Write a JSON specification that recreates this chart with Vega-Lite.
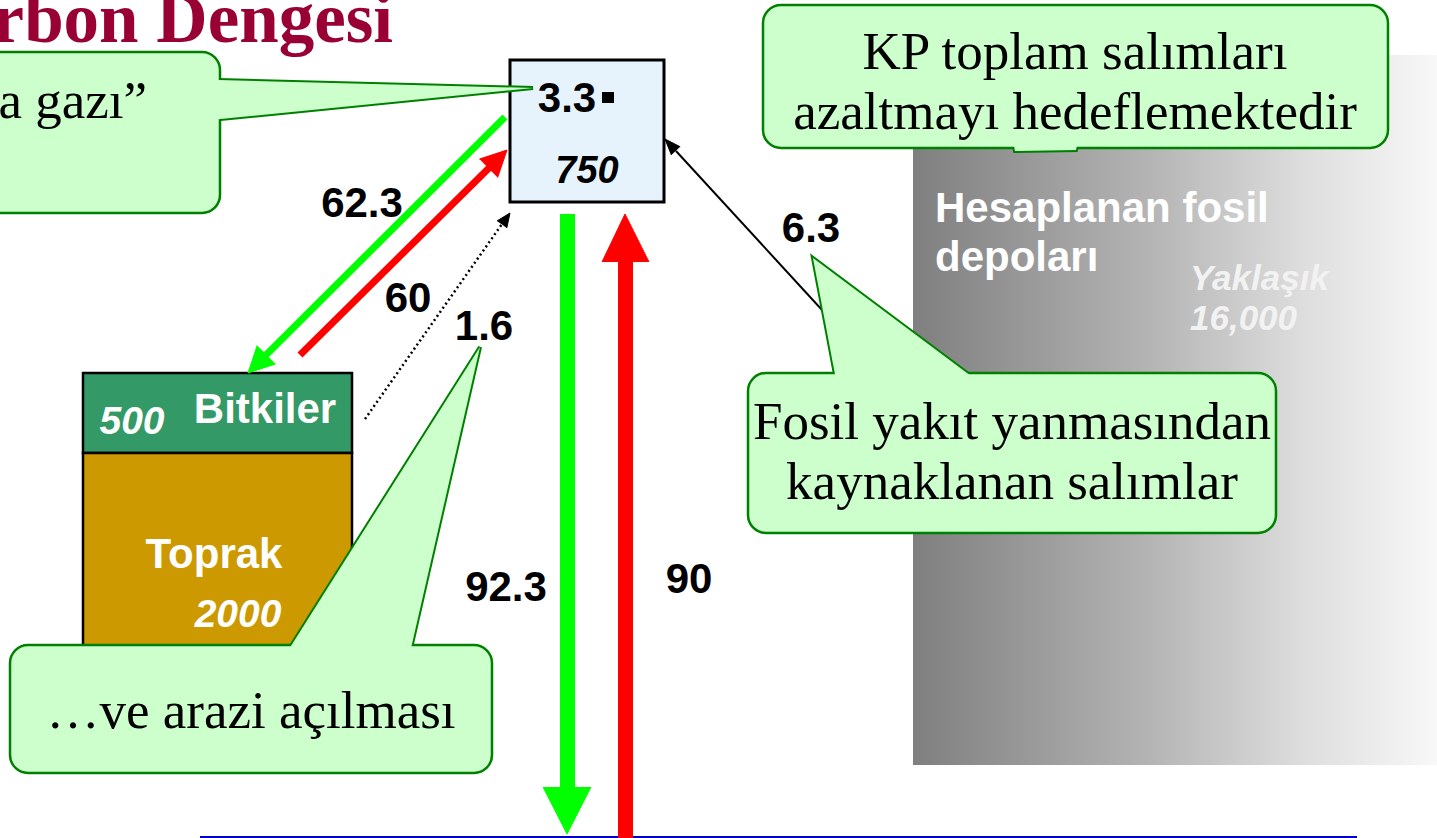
{
  "$schema": "https://vega.github.io/schema/vega-lite/v6.json",
  "width": 1437,
  "height": 838,
  "autosize": {"type": "none"},
  "padding": 0,
  "background": "white",
  "config": {"view": {"stroke": null}},
  "encoding": {
    "x": {"field": "x", "type": "quantitative", "scale": {"domain": [0, 1437], "nice": false, "zero": false}, "axis": null},
    "y": {"field": "y", "type": "quantitative", "scale": {"domain": [0, 838], "nice": false, "zero": false, "reverse": true}, "axis": null}
  },
  "layer": [
    {
      "data": {"values": [{"x": 913, "x2": 1437, "y": 55, "y2": 765}]},
      "mark": {"type": "rect", "fill": {"gradient": "linear", "x1": 0, "y1": 0, "x2": 1, "y2": 0, "stops": [{"offset": 0, "color": "#7f7f7f"}, {"offset": 0.45, "color": "#b4b4b4"}, {"offset": 0.75, "color": "#dedede"}, {"offset": 1, "color": "#f8f8f8"}]}},
      "encoding": {"x2": {"field": "x2"}, "y2": {"field": "y2"}}
    },
    {
      "data": {"values": [{"x": 200, "x2": 1357, "y": 837, "y2": 837}]},
      "mark": {"type": "rule", "stroke": "#0000cc", "strokeWidth": 2},
      "encoding": {"x2": {"field": "x2"}, "y2": {"field": "y2"}}
    },
    {
      "data": {"values": [{"x": 510, "x2": 664, "y": 60, "y2": 202}]},
      "mark": {"type": "rect", "fill": "#e6f3fd", "stroke": "#000000", "strokeWidth": 3},
      "encoding": {"x2": {"field": "x2"}, "y2": {"field": "y2"}}
    },
    {
      "data": {"values": [
        {"stock": "Bitkiler", "x": 83, "x2": 352, "y": 373, "y2": 453},
        {"stock": "Toprak", "x": 83, "x2": 352, "y": 453, "y2": 690}
      ]},
      "mark": {"type": "rect", "stroke": "#000000", "strokeWidth": 2.5},
      "encoding": {
        "x2": {"field": "x2"}, "y2": {"field": "y2"},
        "fill": {"field": "stock", "type": "nominal", "scale": {"domain": ["Bitkiler", "Toprak"], "range": ["#339966", "#cc9900"]}, "legend": null}
      }
    },
    {
      "data": {"values": [{"x": 845, "y": 335, "x2": 676, "y2": 151}]},
      "mark": {"type": "rule", "stroke": "#000000", "strokeWidth": 2},
      "encoding": {"x2": {"field": "x2"}, "y2": {"field": "y2"}}
    },
    {
      "data": {"values": [{"x": 365, "y": 419, "x2": 502, "y2": 224}]},
      "mark": {"type": "rule", "stroke": "#000000", "strokeWidth": 2.5, "strokeDash": [2, 3]},
      "encoding": {"x2": {"field": "x2"}, "y2": {"field": "y2"}}
    },
    {
      "data": {"values": [
        {"flow": "uptake", "x": 505, "y": 117, "x2": 266, "y2": 355},
        {"flow": "release", "x": 300, "y": 355, "x2": 489, "y2": 168}
      ]},
      "mark": {"type": "rule", "strokeWidth": 7},
      "encoding": {
        "x2": {"field": "x2"}, "y2": {"field": "y2"},
        "color": {"field": "flow", "type": "nominal", "scale": {"domain": ["uptake", "release"], "range": ["#00ff00", "#ff0000"]}, "legend": null}
      }
    },
    {
      "data": {"values": [
        {"flow": "uptake", "x": 560, "x2": 575, "y": 214, "y2": 788},
        {"flow": "release", "x": 618, "x2": 633, "y": 261, "y2": 838}
      ]},
      "mark": {"type": "rect"},
      "encoding": {
        "x2": {"field": "x2"}, "y2": {"field": "y2"},
        "color": {"field": "flow", "type": "nominal", "scale": {"domain": ["uptake", "release"], "range": ["#00ff00", "#ff0000"]}, "legend": null}
      }
    },
    {
      "data": {"values": [
        {"flow": "uptake", "id": "g1", "i": 0, "x": 275.6, "y": 363.9},
        {"flow": "uptake", "id": "g1", "i": 1, "x": 248, "y": 373},
        {"flow": "uptake", "id": "g1", "i": 2, "x": 257.2, "y": 345.5},
        {"flow": "uptake", "id": "g2", "i": 0, "x": 543, "y": 787},
        {"flow": "uptake", "id": "g2", "i": 1, "x": 567, "y": 834},
        {"flow": "uptake", "id": "g2", "i": 2, "x": 591, "y": 787}
      ]},
      "mark": {"type": "line", "fill": "#00ff00", "stroke": "#00ff00", "strokeWidth": 1},
      "encoding": {"detail": {"field": "id"}, "order": {"field": "i", "type": "quantitative"}}
    },
    {
      "data": {"values": [
        {"flow": "release", "id": "r1", "i": 0, "x": 497.6, "y": 177.5},
        {"flow": "release", "id": "r1", "i": 1, "x": 507, "y": 150},
        {"flow": "release", "id": "r1", "i": 2, "x": 479.4, "y": 159.1},
        {"flow": "release", "id": "r2", "i": 0, "x": 602, "y": 262},
        {"flow": "release", "id": "r2", "i": 1, "x": 625, "y": 214},
        {"flow": "release", "id": "r2", "i": 2, "x": 649, "y": 262}
      ]},
      "mark": {"type": "line", "fill": "#ff0000", "stroke": "#ff0000", "strokeWidth": 1},
      "encoding": {"detail": {"field": "id"}, "order": {"field": "i", "type": "quantitative"}}
    },
    {
      "data": {"values": [
        {"flow": "fossil", "id": "b1", "i": 0, "x": 680.2, "y": 146.8},
        {"flow": "fossil", "id": "b1", "i": 1, "x": 665, "y": 139},
        {"flow": "fossil", "id": "b1", "i": 2, "x": 671.4, "y": 154.9},
        {"flow": "land", "id": "b2", "i": 0, "x": 506.8, "y": 227.9},
        {"flow": "land", "id": "b2", "i": 1, "x": 510, "y": 213},
        {"flow": "land", "id": "b2", "i": 2, "x": 497, "y": 220.9}
      ]},
      "mark": {"type": "line", "fill": "#000000", "stroke": "#000000", "strokeWidth": 1},
      "encoding": {"detail": {"field": "id"}, "order": {"field": "i", "type": "quantitative"}}
    },
    {
      "data": {"values": [
        {"text": "62.3", "x": 362, "y": 217},
        {"text": "60", "x": 408, "y": 312},
        {"text": "1.6", "x": 484, "y": 340},
        {"text": "92.3", "x": 506, "y": 601},
        {"text": "90", "x": 689, "y": 593},
        {"text": "6.3", "x": 811, "y": 242},
        {"text": "3.3", "x": 567, "y": 112}
      ]},
      "mark": {"type": "text", "font": "Liberation Sans", "fontWeight": "bold", "fontSize": 42, "align": "center", "baseline": "alphabetic", "fill": "#000000"},
      "encoding": {"text": {"field": "text"}}
    },
    {
      "data": {"values": [{"text": "750", "x": 587, "y": 183}]},
      "mark": {"type": "text", "font": "Liberation Sans", "fontWeight": "bold", "fontStyle": "italic", "fontSize": 38, "align": "center", "baseline": "alphabetic", "fill": "#000000"},
      "encoding": {"text": {"field": "text"}}
    },
    {
      "data": {"values": [{"x": 602, "x2": 614, "y": 92, "y2": 103}]},
      "mark": {"type": "rect", "fill": "#000000"},
      "encoding": {"x2": {"field": "x2"}, "y2": {"field": "y2"}}
    },
    {
      "data": {"values": [
        {"text": "Bitkiler", "x": 265, "y": 423},
        {"text": "Toprak", "x": 214, "y": 568}
      ]},
      "mark": {"type": "text", "font": "Liberation Sans", "fontWeight": "bold", "fontSize": 42, "align": "center", "baseline": "alphabetic", "fill": "#ffffff"},
      "encoding": {"text": {"field": "text"}}
    },
    {
      "data": {"values": [
        {"text": "500", "x": 132, "y": 434},
        {"text": "2000", "x": 238, "y": 627}
      ]},
      "mark": {"type": "text", "font": "Liberation Sans", "fontWeight": "bold", "fontStyle": "italic", "fontSize": 39, "align": "center", "baseline": "alphabetic", "fill": "#ffffff"},
      "encoding": {"text": {"field": "text"}}
    },
    {
      "data": {"values": [
        {"text": "Hesaplanan fosil", "x": 935, "y": 222},
        {"text": "depoları", "x": 935, "y": 271}
      ]},
      "mark": {"type": "text", "font": "Liberation Sans", "fontWeight": "bold", "fontSize": 42, "align": "left", "baseline": "alphabetic", "fill": "#ffffff"},
      "encoding": {"text": {"field": "text"}}
    },
    {
      "data": {"values": [
        {"text": "Yaklaşık", "x": 1190, "y": 290},
        {"text": "16,000", "x": 1190, "y": 330}
      ]},
      "mark": {"type": "text", "font": "Liberation Sans", "fontWeight": "bold", "fontStyle": "italic", "fontSize": 35, "align": "left", "baseline": "alphabetic", "fill": "#f2f2f2"},
      "encoding": {"text": {"field": "text"}}
    },
    {
      "data": {"name": "pointers", "values": [
        {"id": "sera", "i": 0, "x": 200, "y": 79.5},
        {"id": "sera", "i": 1, "x": 533, "y": 88},
        {"id": "sera", "i": 2, "x": 200, "y": 121},
        {"id": "kp", "i": 0, "x": 1013, "y": 140},
        {"id": "kp", "i": 1, "x": 1015, "y": 151},
        {"id": "kp", "i": 2, "x": 1076, "y": 150},
        {"id": "kp", "i": 3, "x": 1078, "y": 140},
        {"id": "fosil", "i": 0, "x": 837, "y": 385},
        {"id": "fosil", "i": 1, "x": 813, "y": 258},
        {"id": "fosil", "i": 2, "x": 983, "y": 385},
        {"id": "arazi", "i": 0, "x": 284, "y": 657},
        {"id": "arazi", "i": 1, "x": 480, "y": 347},
        {"id": "arazi", "i": 2, "x": 409, "y": 657}
      ]},
      "mark": {"type": "line", "fill": "#ccffcc", "stroke": "#008000", "strokeWidth": 4, "strokeJoin": "miter"},
      "encoding": {"detail": {"field": "id"}, "order": {"field": "i", "type": "quantitative"}}
    },
    {
      "data": {"values": [
        {"x": -20, "x2": 220, "y": 52, "y2": 213},
        {"x": 763, "x2": 1388, "y": 5, "y2": 148},
        {"x": 748, "x2": 1276, "y": 373, "y2": 533},
        {"x": 10, "x2": 492, "y": 645, "y2": 773}
      ]},
      "mark": {"type": "rect", "fill": "#ccffcc", "stroke": "#008000", "strokeWidth": 2.5, "cornerRadius": 18},
      "encoding": {"x2": {"field": "x2"}, "y2": {"field": "y2"}}
    },
    {
      "data": {"name": "pointers"},
      "mark": {"type": "line", "fill": "#ccffcc", "stroke": "#ccffcc", "strokeOpacity": 0},
      "encoding": {"detail": {"field": "id"}, "order": {"field": "i", "type": "quantitative"}}
    },
    {
      "data": {"values": [
        {"text": "KP toplam salımları", "x": 1075, "y": 69},
        {"text": "azaltmayı hedeflemektedir", "x": 1075, "y": 129},
        {"text": "Fosil yakıt yanmasından", "x": 1012, "y": 439},
        {"text": "kaynaklanan salımlar", "x": 1012, "y": 499},
        {"text": "…ve arazi açılması", "x": 251, "y": 728}
      ]},
      "mark": {"type": "text", "font": "Liberation Serif", "fontSize": 53, "align": "center", "baseline": "alphabetic", "fill": "#000000"},
      "encoding": {"text": {"field": "text"}}
    },
    {
      "data": {"values": [{"text": "“Sera gazı”", "x": 147, "y": 118}]},
      "mark": {"type": "text", "font": "Liberation Serif", "fontSize": 53, "align": "right", "baseline": "alphabetic", "fill": "#000000"},
      "encoding": {"text": {"field": "text"}}
    },
    {
      "data": {"values": [{"text": "Karbon Dengesi", "x": 393, "y": 42}]},
      "mark": {"type": "text", "font": "Liberation Serif", "fontWeight": "bold", "fontSize": 71, "align": "right", "baseline": "alphabetic", "fill": "#990033"},
      "encoding": {"text": {"field": "text"}}
    }
  ]
}
